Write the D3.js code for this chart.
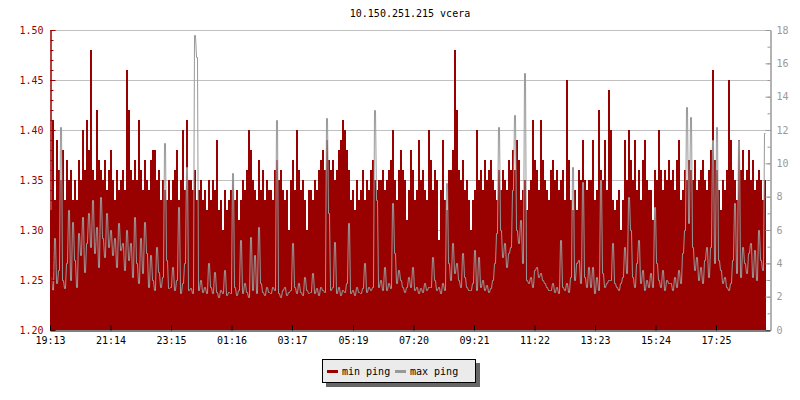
<!DOCTYPE html>
<html><head><meta charset="utf-8">
<script src="https://cdn.jsdelivr.net/npm/d3@7"></script>
<style>
body{margin:0;background:#fff}
text{font-family:"DejaVu Sans Mono",monospace;font-size:10px}
</style>
</head><body><svg id="c" width="800" height="400"></svg>
<script>
const title = "10.150.251.215 vcera";
const startTime = "19:13";
const sampleStepMinutes = 4;
const spanMinutes = 1440;
const timeLabels = ["19:13","21:14","23:15","01:16","03:17","05:19","07:20","09:21","11:22","13:23","15:24","17:25"];
const minPingTicks = [1.20,1.25,1.30,1.35,1.40,1.45,1.50];
const maxPingTicks = [0,2,4,6,8,10,12,14,16,18];
const seriesNames = ["min ping","max ping"];
const seriesColors = ["#990000","#999999"];

const minPing = [
1.32,1.41,1.33,1.39,1.36,1.35,1.38,1.33,1.37,1.35,
1.36,1.33,1.35,1.33,1.37,1.35,1.40,1.36,1.41,1.38,
1.48,1.36,1.35,1.42,1.37,1.36,1.35,1.37,1.34,1.36,
1.38,1.35,1.33,1.36,1.34,1.35,1.36,1.34,1.46,1.42,
1.36,1.35,1.37,1.35,1.41,1.36,1.34,1.37,1.35,1.34,
1.37,1.38,1.38,1.35,1.36,1.33,1.35,1.34,1.33,1.35,
1.33,1.35,1.36,1.38,1.33,1.35,1.40,1.34,1.41,1.35,
1.35,1.34,1.36,1.33,1.34,1.35,1.33,1.34,1.32,1.35,
1.33,1.35,1.34,1.39,1.32,1.33,1.30,1.34,1.32,1.33,
1.34,1.35,1.33,1.34,1.31,1.33,1.35,1.34,1.36,1.40,
1.38,1.35,1.34,1.33,1.37,1.34,1.36,1.33,1.35,1.34,
1.34,1.33,1.36,1.37,1.35,1.36,1.34,1.33,1.34,1.30,
1.35,1.37,1.34,1.40,1.36,1.34,1.35,1.33,1.30,1.34,
1.34,1.33,1.35,1.34,1.36,1.37,1.38,1.36,1.39,1.37,
1.36,1.37,1.35,1.36,1.38,1.39,1.41,1.40,1.38,1.36,
1.33,1.34,1.32,1.35,1.33,1.34,1.36,1.33,1.35,1.34,
1.36,1.37,1.35,1.34,1.35,1.35,1.36,1.34,1.35,1.36,
1.37,1.40,1.35,1.33,1.36,1.38,1.36,1.35,1.31,1.34,
1.38,1.36,1.33,1.34,1.39,1.35,1.36,1.34,1.33,1.40,
1.37,1.34,1.36,1.35,1.29,1.34,1.39,1.33,1.32,1.36,
1.36,1.38,1.48,1.42,1.36,1.35,1.37,1.34,1.35,1.33,
1.30,1.33,1.34,1.40,1.35,1.36,1.34,1.37,1.35,1.36,
1.37,1.35,1.34,1.33,1.36,1.34,1.36,1.35,1.34,1.37,
1.36,1.38,1.36,1.39,1.37,1.33,1.34,1.35,1.32,1.34,
1.35,1.41,1.37,1.36,1.34,1.41,1.37,1.35,1.34,1.33,
1.36,1.37,1.35,1.36,1.34,1.35,1.36,1.33,1.45,1.37,
1.33,1.32,1.34,1.32,1.36,1.35,1.39,1.35,1.34,1.35,
1.35,1.39,1.33,1.34,1.42,1.36,1.35,1.39,1.34,1.44,
1.40,1.33,1.32,1.33,1.34,1.30,1.33,1.39,1.35,1.40,
1.37,1.35,1.39,1.34,1.36,1.33,1.37,1.39,1.35,1.34,
1.34,1.31,1.36,1.35,1.40,1.36,1.34,1.36,1.35,1.37,
1.35,1.36,1.34,1.37,1.39,1.33,1.34,1.36,1.35,1.37,
1.36,1.35,1.37,1.34,1.35,1.36,1.37,1.35,1.34,1.36,
1.38,1.46,1.37,1.36,1.34,1.32,1.35,1.34,1.36,1.45,
1.39,1.36,1.35,1.33,1.39,1.36,1.38,1.35,1.36,1.38,
1.35,1.37,1.34,1.35,1.36,1.35,1.33,1.35
];

const maxPing = [
3.2,2.4,5.5,2.8,3.6,12.2,3.0,2.5,4.0,7.2,
3.0,6.5,4.2,2.6,5.8,4.5,6.8,3.5,5.2,7.0,
5.0,7.8,4.6,6.2,3.8,8.0,5.5,4.4,7.0,5.0,
6.0,4.5,5.5,3.8,6.4,4.8,5.2,3.6,6.0,4.2,
5.2,3.2,6.8,4.0,2.8,5.5,3.4,6.5,4.6,2.6,
4.5,3.0,2.4,5.0,3.5,2.6,3.2,11.2,4.2,2.5,
2.6,3.8,2.4,3.0,7.4,2.2,2.8,4.0,9.8,2.4,
2.5,2.2,17.7,16.4,2.4,3.0,2.3,2.6,2.2,4.0,
2.6,2.2,3.5,2.3,2.0,2.4,2.2,3.6,2.1,2.3,
2.2,9.4,2.6,2.1,2.4,5.4,2.2,2.8,2.3,2.0,
5.6,2.4,4.5,2.2,6.2,2.8,2.3,2.1,2.6,2.3,
2.2,2.6,2.4,12.6,2.2,2.0,2.4,2.6,2.1,2.3,
2.4,5.2,2.6,2.2,2.8,2.3,2.1,3.2,2.4,2.2,
2.3,3.4,2.2,2.5,2.1,2.6,2.4,2.3,12.7,7.0,
2.4,2.6,5.3,2.2,2.6,2.1,2.4,2.3,2.8,6.4,
2.2,2.4,2.1,2.6,2.3,2.2,2.5,4.0,2.3,2.6,
2.4,2.6,13.2,7.8,2.6,3.0,2.4,3.8,2.4,2.8,
2.5,7.6,4.6,2.8,3.6,3.0,2.6,2.3,2.6,3.2,
2.6,3.8,2.4,2.6,2.2,2.5,2.3,2.8,2.4,2.6,
2.6,4.4,3.0,2.4,2.6,2.2,2.8,2.4,8.8,4.0,
3.0,5.2,3.4,4.0,3.0,2.6,4.6,3.2,2.6,2.4,
2.4,2.8,4.8,2.4,4.4,2.6,3.0,2.4,2.7,2.3,
2.5,3.0,4.0,5.8,12.2,6.0,4.4,5.2,3.8,4.6,
5.0,8.4,12.9,6.0,5.2,6.6,4.0,15.4,3.0,2.8,
3.2,2.6,3.6,3.8,3.2,3.4,3.0,2.8,2.6,2.4,
2.4,2.8,2.3,2.6,2.2,5.4,2.6,2.4,2.8,2.3,
3.2,9.8,3.0,4.0,4.2,2.8,8.9,3.2,2.6,3.8,
2.6,3.8,2.2,3.2,2.4,9.0,3.4,2.6,2.8,3.0,
3.0,5.2,2.8,2.6,2.4,2.8,3.2,5.0,3.4,8.0,
6.0,3.2,2.6,4.0,5.4,2.8,3.6,2.4,3.0,2.6,
3.4,2.6,7.4,4.0,3.0,2.6,3.6,2.4,3.0,2.8,
2.8,2.4,3.2,2.6,3.6,2.8,4.6,6.0,13.4,6.4,
12.8,5.0,3.6,4.4,3.0,3.8,2.8,4.2,5.0,3.2,
5.0,11.4,4.0,12.2,4.2,3.6,2.8,3.2,2.6,2.4,
2.8,4.2,7.6,3.4,11.4,3.2,5.0,4.0,3.4,4.6,
5.2,3.2,4.8,3.0,6.0,4.2,3.6,11.8
];

const svg = d3.select("#c");
const L = 50, R = 770, T = 30, B = 330;
const MIN = 60000;
const [sh, sm] = startTime.split(":").map(Number);
const base = new Date(2000, 0, 1, sh, sm);
const tAt = i => new Date(+base + i * sampleStepMinutes * MIN);
const x = d3.scaleTime().domain([base, new Date(+base + spanMinutes * MIN)]).range([L, R]);
const yL = d3.scaleLinear().domain([minPingTicks[0], minPingTicks[minPingTicks.length-1]]).range([B, T]);
const yR = d3.scaleLinear().domain([maxPingTicks[0], maxPingTicks[maxPingTicks.length-1]]).range([B, T]);

// tick times from labels (rolling over midnight)
let dayOff = 0, prev = -1;
const tickTimes = timeLabels.map(s => {
  const [h, m] = s.split(":").map(Number);
  const mins = h * 60 + m;
  if (prev >= 0 && mins < prev) dayOff += 1440;
  prev = mins;
  return new Date(+base + (mins + dayOff - (sh * 60 + sm)) * MIN);
});

// grid
svg.append("g").selectAll("line").data(minPingTicks.slice(1)).join("line")
  .attr("x1", L).attr("x2", R)
  .attr("y1", d => Math.round(yL(d)) + 0.5).attr("y2", d => Math.round(yL(d)) + 0.5)
  .attr("stroke", "#c0c0c0").attr("stroke-width", 1);

// min ping bars
svg.append("g").attr("shape-rendering", "crispEdges").selectAll("rect").data(minPing).join("rect")
  .attr("x", (d, i) => x(tAt(i)))
  .attr("width", (d, i) => x(tAt(i + 1)) - x(tAt(i)))
  .attr("y", d => yL(d))
  .attr("height", d => B - yL(d))
  .attr("fill", seriesColors[0]);

// max ping line: each sample spans its interval, joined by near-vertical strokes
const maxPts = maxPing.flatMap((v, i) => [
  [x(tAt(i)) + 0.5, yR(v)],
  [x(tAt(i + 1)) - 0.5, yR(v)]
]);
svg.append("path").datum(maxPts)
  .attr("fill", "none").attr("stroke", seriesColors[1]).attr("stroke-width", 1)
  .attr("d", d3.line().x(d => d[0]).y(d => Math.round(d[1]) + 0.5));

// left axis
const minorL = d3.range(0, 31).map(i => minPingTicks[0] + i * 0.01);
const gLm = svg.append("g").attr("transform", `translate(${L + 0.5},0)`)
  .call(d3.axisLeft(yL).tickValues(minorL).tickSizeInner(-3).tickSizeOuter(0).tickFormat(""));
const gL = svg.append("g").attr("transform", `translate(${L + 0.5},0)`)
  .call(d3.axisLeft(yL).tickValues(minPingTicks).tickSizeInner(-5).tickSizeOuter(0).tickPadding(7).tickFormat(d3.format(".2f")));
[gLm, gL].forEach(g => {
  g.selectAll("path,line").attr("stroke", seriesColors[0]);
  g.selectAll("text").attr("fill", seriesColors[0]).style("font-family", '"DejaVu Sans Mono",monospace').style("font-size", "10px");
});

// right axis
const minorR = d3.range(0, 19);
const gRm = svg.append("g").attr("transform", `translate(${R + 0.5},0)`)
  .call(d3.axisRight(yR).tickValues(minorR).tickSizeInner(-3).tickSizeOuter(0).tickFormat(""));
const gR = svg.append("g").attr("transform", `translate(${R + 0.5},0)`)
  .call(d3.axisRight(yR).tickValues(maxPingTicks).tickSizeInner(-5).tickSizeOuter(0).tickPadding(6));
[gRm, gR].forEach(g => {
  g.selectAll("path,line").attr("stroke", seriesColors[1]);
  g.selectAll("text").attr("fill", seriesColors[1]).style("font-family", '"DejaVu Sans Mono",monospace').style("font-size", "10px");
});

// bottom axis
const gB = svg.append("g").attr("transform", `translate(0,${B + 0.5})`)
  .call(d3.axisBottom(x).tickValues(tickTimes).tickSizeInner(-5).tickSizeOuter(0).tickPadding(6)
    .tickFormat((d, i) => timeLabels[i]));
gB.selectAll("path,line").attr("stroke", "#000");
gB.selectAll("text").attr("fill", "#000").style("font-family", '"DejaVu Sans Mono",monospace').style("font-size", "10px");

// title
svg.append("text").attr("x", (L + R) / 2).attr("y", 17).attr("text-anchor", "middle")
  .attr("fill", "#000").text(title);

// legend
const lg = svg.append("g").attr("transform", "translate(322,359)");
lg.append("rect").attr("x", 4).attr("y", 4).attr("width", 154).attr("height", 24).attr("fill", "#666");
lg.append("rect").attr("x", 0.5).attr("y", 0.5).attr("width", 153).attr("height", 23)
  .attr("fill", "#ebebeb").attr("stroke", "#000").attr("stroke-width", 1);
const itemX = [5, 73];
seriesNames.forEach((n, i) => {
  lg.append("line").attr("x1", itemX[i]).attr("x2", itemX[i] + 11).attr("y1", 12.5).attr("y2", 12.5)
    .attr("stroke", seriesColors[i]).attr("stroke-width", 3);
  lg.append("text").attr("x", itemX[i] + 15).attr("y", 16).attr("fill", "#000").text(n);
});
</script>
</body></html>
